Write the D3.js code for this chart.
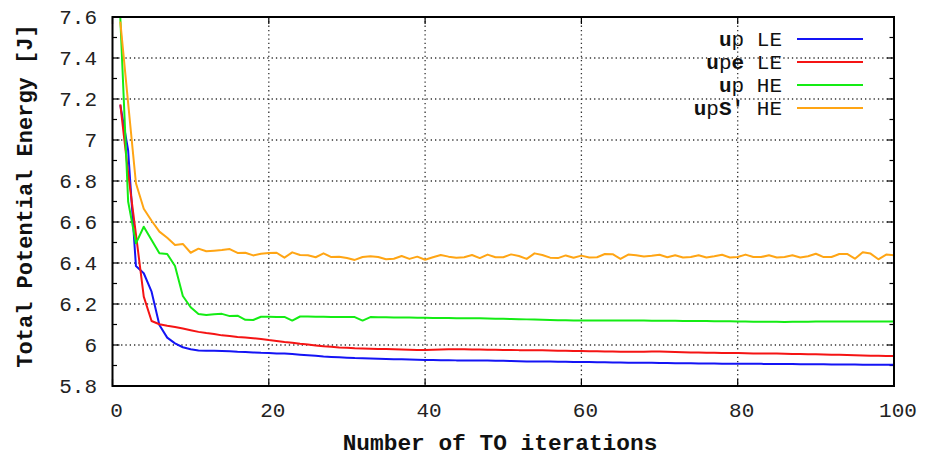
<!DOCTYPE html>
<html>
<head>
<meta charset="utf-8">
<script src="https://cdn.jsdelivr.net/npm/d3@7"></script>
<style>
  html, body { margin: 0; padding: 0; background: #fff; }
  svg { display: block; }
  text { font-family: "Courier New", Courier, "Nimbus Mono PS", FreeMono, "Liberation Mono", monospace; }
</style>
</head>
<body>
<svg id="chart" width="932" height="457"></svg>
<script>
// Topology-optimisation history: total potential energy per iteration
const iterations = d3.range(1, 101);

const upLE = [
  7.17, 6.95, 6.385, 6.350, 6.260, 6.098, 6.036, 6.008, 5.989, 5.979,
  5.973, 5.972, 5.972, 5.971, 5.969, 5.967, 5.966, 5.964, 5.962, 5.961,
  5.959, 5.958, 5.956, 5.953, 5.950, 5.947, 5.944, 5.942, 5.940, 5.938,
  5.936, 5.935, 5.934, 5.933, 5.932, 5.931, 5.930, 5.929, 5.928, 5.927,
  5.927, 5.926, 5.926, 5.925, 5.925, 5.925, 5.924, 5.924, 5.923, 5.923,
  5.922, 5.921, 5.920, 5.920, 5.919, 5.919, 5.918, 5.918, 5.917, 5.917,
  5.917, 5.916, 5.916, 5.915, 5.915, 5.914, 5.914, 5.913, 5.913, 5.912,
  5.912, 5.911, 5.911, 5.911, 5.910, 5.910, 5.910, 5.909, 5.909, 5.909,
  5.908, 5.908, 5.908, 5.907, 5.907, 5.907, 5.907, 5.906, 5.906, 5.906,
  5.906, 5.905, 5.905, 5.905, 5.905, 5.904, 5.904, 5.904, 5.904, 5.904
];

const upeLE = [
  7.174, 6.84, 6.54, 6.236, 6.117, 6.101, 6.094, 6.088, 6.080, 6.072,
  6.064, 6.058, 6.054, 6.047, 6.044, 6.039, 6.036, 6.033, 6.029, 6.024,
  6.020, 6.015, 6.011, 6.006, 6.002, 5.998, 5.994, 5.991, 5.988, 5.986,
  5.984, 5.983, 5.982, 5.981, 5.980, 5.979, 5.978, 5.977, 5.976, 5.976,
  5.977, 5.978, 5.979, 5.979, 5.979, 5.978, 5.978, 5.977, 5.977, 5.976,
  5.976, 5.975, 5.975, 5.974, 5.974, 5.973, 5.972, 5.972, 5.971, 5.971,
  5.970, 5.969, 5.968, 5.968, 5.967, 5.967, 5.967, 5.967, 5.968, 5.968,
  5.967, 5.966, 5.965, 5.964, 5.963, 5.962, 5.962, 5.961, 5.961, 5.961,
  5.960, 5.959, 5.959, 5.958, 5.958, 5.957, 5.956, 5.956, 5.955, 5.955,
  5.954, 5.953, 5.952, 5.951, 5.950, 5.949, 5.948, 5.947, 5.946, 5.946
];

const upHE = [
  7.595, 6.70, 6.496, 6.577, 6.512, 6.447, 6.444, 6.385, 6.239, 6.184,
  6.151, 6.146, 6.150, 6.152, 6.141, 6.143, 6.123, 6.122, 6.138, 6.138,
  6.137, 6.137, 6.119, 6.139, 6.139, 6.138, 6.138, 6.137, 6.137, 6.136,
  6.136, 6.119, 6.136, 6.135, 6.135, 6.134, 6.134, 6.134, 6.133, 6.133,
  6.132, 6.132, 6.132, 6.131, 6.131, 6.130, 6.130, 6.129, 6.128, 6.128,
  6.127, 6.126, 6.125, 6.124, 6.123, 6.122, 6.121, 6.121, 6.120, 6.120,
  6.120, 6.120, 6.120, 6.120, 6.119, 6.119, 6.119, 6.119, 6.118, 6.118,
  6.118, 6.118, 6.117, 6.117, 6.117, 6.117, 6.116, 6.116, 6.116, 6.115,
  6.115, 6.114, 6.114, 6.113, 6.113, 6.112, 6.113, 6.114, 6.114, 6.115,
  6.115, 6.115, 6.115, 6.115, 6.115, 6.115, 6.115, 6.115, 6.115, 6.115
];

const upSHE = [
  7.577, 7.18, 6.789, 6.665, 6.606, 6.553, 6.523, 6.488, 6.493, 6.450,
  6.470, 6.457, 6.460, 6.463, 6.468, 6.449, 6.450, 6.437, 6.445, 6.449,
  6.450, 6.426, 6.452, 6.439, 6.438, 6.428, 6.447, 6.429, 6.431, 6.424,
  6.415, 6.429, 6.433, 6.429, 6.418, 6.421, 6.434, 6.420, 6.431, 6.416,
  6.428, 6.439, 6.431, 6.426, 6.428, 6.439, 6.424, 6.441, 6.428, 6.428,
  6.442, 6.434, 6.420, 6.447, 6.439, 6.426, 6.424, 6.437, 6.426, 6.436,
  6.427, 6.428, 6.444, 6.443, 6.420, 6.441, 6.438, 6.432, 6.435, 6.440,
  6.428, 6.438, 6.427, 6.429, 6.438, 6.427, 6.433, 6.440, 6.427, 6.429,
  6.441, 6.429, 6.429, 6.438, 6.427, 6.429, 6.438, 6.427, 6.433, 6.445,
  6.429, 6.429, 6.444, 6.444, 6.421, 6.452, 6.446, 6.418, 6.441, 6.438
];

const xTicks = [0, 20, 40, 60, 80, 100];
const yTicks = [5.8, 6, 6.2, 6.4, 6.6, 6.8, 7, 7.2, 7.4, 7.6];
const yMinorTicks = [5.9, 6.1, 6.3, 6.5, 6.7, 6.9, 7.1, 7.3, 7.5];

const series = [
  { parts: ["u", "p", ""], tail: " LE", values: upLE,  color: "#1414f5" },
  { parts: ["u", "p", "e"], tail: " LE", values: upeLE, color: "#f51414" },
  { parts: ["u", "p", ""], tail: " HE", values: upHE,  color: "#14ec14" },
  { parts: ["u", "p", "S\u2032"], tail: " HE", values: upSHE, color: "#ffa514" }
];

const svg = d3.select("#chart");
const plotL = 112.5, plotR = 894, plotT = 17, plotB = 386;

const x = d3.scaleLinear().domain([0, 100]).range([plotL, plotR]);
const y = d3.scaleLinear().domain([5.8, 7.6]).range([plotB, plotT]);

// dotted grid
const grid = svg.append("g").attr("stroke", "#333").attr("stroke-width", 1.3)
  .attr("stroke-dasharray", "1.3,3");
grid.selectAll(".gx").data(xTicks.filter(d => d > 0 && d < 100)).join("line")
  .attr("x1", d => x(d)).attr("x2", d => x(d)).attr("y1", plotT).attr("y2", plotB);
grid.selectAll(".gy").data(yTicks.filter(d => d > 5.8 && d < 7.6)).join("line")
  .attr("x1", plotL).attr("x2", plotR).attr("y1", d => y(d)).attr("y2", d => y(d));

// ticks pointing inward on all four sides
const tk = svg.append("g").attr("stroke", "#000").attr("stroke-width", 1.2);
const majorLen = 7, minorLen = 4.5;
yTicks.forEach(v => {
  tk.append("line").attr("x1", plotL).attr("x2", plotL + majorLen).attr("y1", y(v)).attr("y2", y(v));
  tk.append("line").attr("x1", plotR).attr("x2", plotR - majorLen).attr("y1", y(v)).attr("y2", y(v));
});
yMinorTicks.forEach(v => {
  tk.append("line").attr("x1", plotL).attr("x2", plotL + minorLen).attr("y1", y(v)).attr("y2", y(v));
  tk.append("line").attr("x1", plotR).attr("x2", plotR - minorLen).attr("y1", y(v)).attr("y2", y(v));
});
xTicks.forEach(v => {
  tk.append("line").attr("x1", x(v)).attr("x2", x(v)).attr("y1", plotB).attr("y2", plotB - majorLen);
  tk.append("line").attr("x1", x(v)).attr("x2", x(v)).attr("y1", plotT).attr("y2", plotT + majorLen);
});

// axis labels
svg.append("g").selectAll("text").data(yTicks).join("text")
  .attr("x", 97).attr("y", d => y(d) + 7)
  .attr("text-anchor", "end").attr("font-size", 21).attr("fill", "#222")
  .text(d => String(+d.toFixed(1)));
svg.append("g").selectAll("text").data(xTicks).join("text")
  .attr("x", d => x(d) + 4).attr("y", 417)
  .attr("text-anchor", "middle").attr("font-size", 21).attr("fill", "#222")
  .text(d => d);

svg.append("text").attr("x", 500).attr("y", 450)
  .attr("text-anchor", "middle").attr("font-size", 22.8).attr("font-weight", "bold")
  .attr("fill", "#111").text("Number of TO iterations");
svg.append("text").attr("transform", "translate(32,196) rotate(-90)")
  .attr("text-anchor", "middle").attr("font-size", 22).attr("font-weight", "bold")
  .attr("fill", "#111").text("Total Potential Energy [J]");

// curves
svg.append("clipPath").attr("id", "plot-clip").append("rect")
  .attr("x", plotL).attr("y", plotT).attr("width", plotR - plotL).attr("height", plotB - plotT);
const line = d3.line().x((d, i) => x(iterations[i])).y(d => y(d));
svg.append("g").attr("clip-path", "url(#plot-clip)")
  .selectAll("path").data(series).join("path")
  .attr("d", s => line(s.values))
  .attr("fill", "none").attr("stroke", s => s.color)
  .attr("stroke-width", 2).attr("stroke-linejoin", "round");

// legend
const legend = svg.append("g");
series.forEach((s, i) => {
  const ly = 39 + i * 23;
  const t = legend.append("text").attr("x", 782).attr("y", ly + 7)
    .attr("text-anchor", "end").attr("font-size", 21).attr("fill", "#111");
  t.append("tspan").attr("font-weight", "bold").text(s.parts[0]);
  t.append("tspan").text(s.parts[1]);
  if (s.parts[2]) t.append("tspan").attr("font-weight", "bold").text(s.parts[2]);
  t.append("tspan").text(s.tail);
  legend.append("line").attr("x1", 797).attr("x2", 863).attr("y1", ly).attr("y2", ly)
    .attr("stroke", s.color).attr("stroke-width", 2);
});

// frame
svg.append("rect").attr("x", plotL).attr("y", plotT)
  .attr("width", plotR - plotL).attr("height", plotB - plotT)
  .attr("fill", "none").attr("stroke", "#000").attr("stroke-width", 2);
</script>
</body>
</html>
